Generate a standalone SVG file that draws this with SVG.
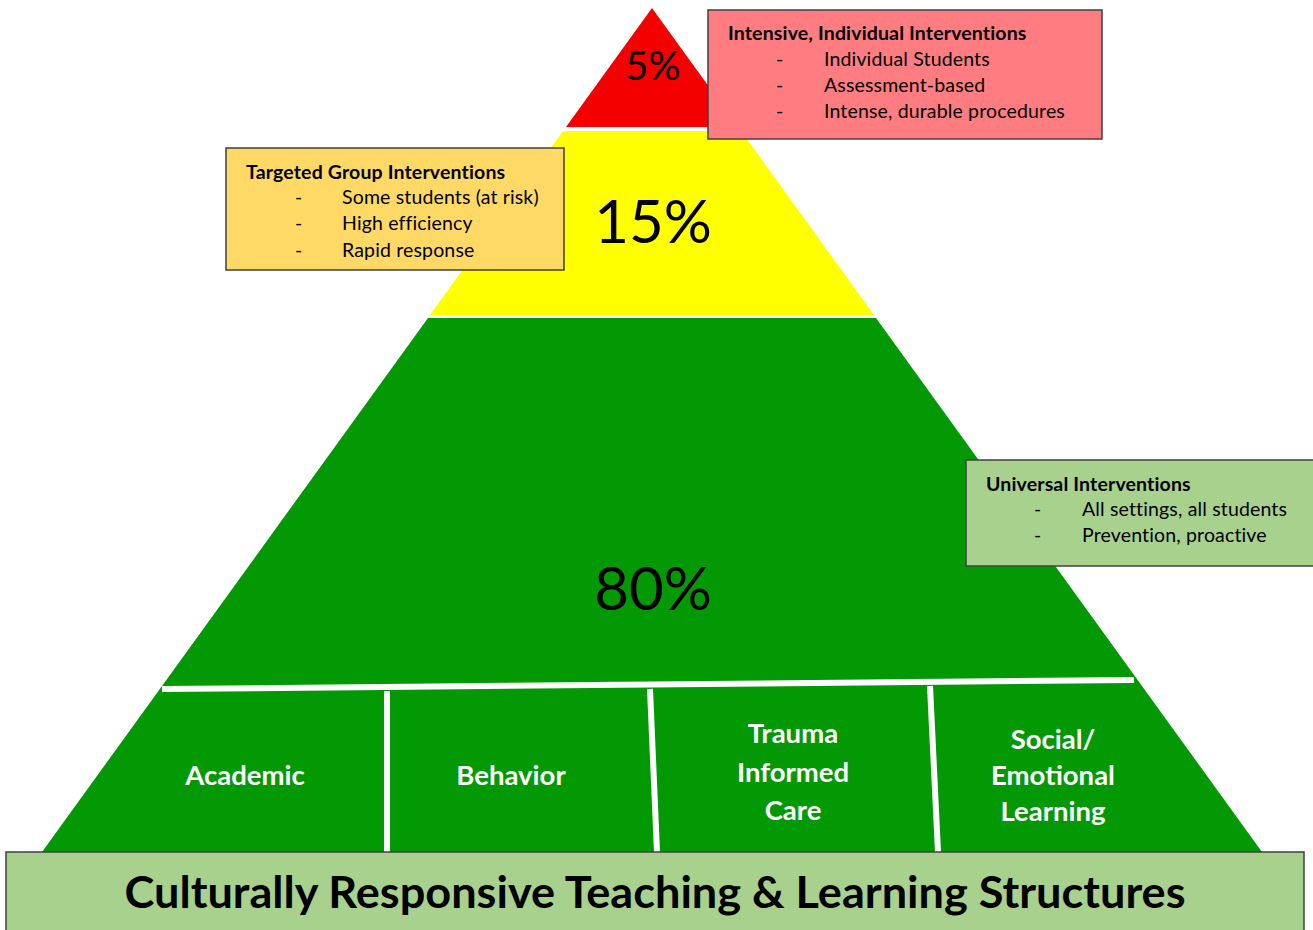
<svg xmlns="http://www.w3.org/2000/svg" width="1313" height="930" viewBox="0 0 1313 930">
<style>
.t{font-family:Lato,"Liberation Sans",sans-serif;fill:#000;font-size:19.5px;letter-spacing:0.15px}
.b{font-weight:bold}
.box{stroke:#404040;stroke-width:1.5}
.w{font-family:Lato,"Liberation Sans",sans-serif;font-weight:bold;fill:#fff;font-size:27.5px;text-anchor:middle}
.pct{font-family:Lato,"Liberation Sans",sans-serif;fill:#000;text-anchor:middle}
.div{stroke:#fff;stroke-width:6;fill:none}
</style>
<rect width="1313" height="930" fill="#fff"/>
<g id="tier-red">
<polygon points="652,8 738,127 566,127" fill="#f50000"/>
<text class="pct" x="653" y="80" font-size="40">5%</text>
</g>
<g id="tier-yellow">
<polygon points="563,131 741,131 874,315 430,315" fill="#ffff00"/>
<text class="pct" x="653" y="243" font-size="60">15%</text>
</g>
<g id="tier-green">
<polygon points="428,318 876,318 1262,852 42,852" fill="#039905"/>
<text class="pct" x="653" y="610" font-size="60">80%</text>
</g>
<g id="connectors">
<line class="div" x1="162" y1="689" x2="1134" y2="680"/>
<line class="div" x1="387" y1="691" x2="387" y2="852"/>
<line class="div" x1="650" y1="689" x2="657" y2="852"/>
<line class="div" x1="930" y1="686" x2="938" y2="852"/>
</g>
<g id="academic"><text class="w" x="245" y="785">Academic</text></g>
<g id="behavior"><text class="w" x="511" y="785">Behavior</text></g>
<g id="trauma"><text class="w" x="793" y="743">Trauma</text><text class="w" x="793" y="782">Informed</text><text class="w" x="793" y="820">Care</text></g>
<g id="sel"><text class="w" x="1053" y="749">Social/</text><text class="w" x="1053" y="785">Emotional</text><text class="w" x="1053" y="821">Learning</text></g>
<g id="box-intensive">
<rect class="box" x="708" y="10" width="394" height="129" fill="#ff7c80"/>
<text class="t b" x="728" y="40">Intensive, Individual Interventions</text>
<text class="t"><tspan x="776" y="66">-</tspan><tspan x="824" y="66">Individual Students</tspan><tspan x="776" y="92">-</tspan><tspan x="824" y="92">Assessment-based</tspan><tspan x="776" y="118">-</tspan><tspan x="824" y="118">Intense, durable procedures</tspan></text>
</g>
<g id="box-targeted">
<rect class="box" x="226" y="148" width="338" height="122" fill="#ffd966"/>
<text class="t b" x="246" y="179">Targeted Group Interventions</text>
<text class="t"><tspan x="295" y="204">-</tspan><tspan x="342" y="204">Some students (at risk)</tspan><tspan x="295" y="230">-</tspan><tspan x="342" y="230">High efficiency</tspan><tspan x="295" y="257">-</tspan><tspan x="342" y="257">Rapid response</tspan></text>
</g>
<g id="box-universal">
<rect class="box" x="966" y="460" width="350" height="106" fill="#a9d18e"/>
<text class="t b" x="986" y="491">Universal Interventions</text>
<text class="t"><tspan x="1034" y="516">-</tspan><tspan x="1082" y="516">All settings, all students</tspan><tspan x="1034" y="542">-</tspan><tspan x="1082" y="542">Prevention, proactive</tspan></text>
</g>
<g id="foundation">
<rect class="box" x="6" y="852" width="1298" height="82" fill="#a9d18e"/>
<text class="t b" x="655" y="908" font-size="43" style="font-size:43px;letter-spacing:0" text-anchor="middle" textLength="1061" lengthAdjust="spacingAndGlyphs">Culturally Responsive Teaching &amp; Learning Structures</text>
</g>
</svg>
